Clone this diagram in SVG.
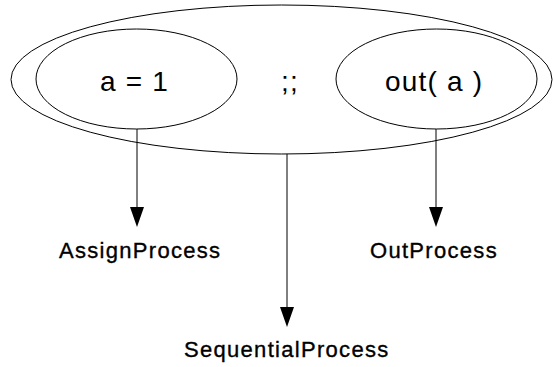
<svg xmlns="http://www.w3.org/2000/svg" width="553" height="367" viewBox="0 0 553 367">
<style>
.shape{fill:none;stroke:#000;stroke-width:1}
.big{font-family:"Liberation Sans",Arial,sans-serif;font-size:28px;fill:#000;letter-spacing:1.2px}
.lbl{font-family:"Liberation Sans",Arial,sans-serif;font-size:22px;fill:#000;stroke:#000;stroke-width:0.35px;letter-spacing:1.3px}
.edge{stroke:#000;stroke-width:1;fill:none}
.head{fill:#000}
</style>
<rect width="553" height="367" fill="#fff"/>
<g id="seq">
<ellipse class="shape" cx="281.5" cy="79.5" rx="270.5" ry="74.5"/>
<text class="big" x="290" y="91" text-anchor="middle">;;</text>
</g>
<g id="assign">
<ellipse class="shape" cx="136.5" cy="79" rx="100.5" ry="50"/>
<text class="big" x="100" y="91">a = 1</text>
</g>
<g id="out">
<ellipse class="shape" cx="436.5" cy="79" rx="100.5" ry="50"/>
<text class="big" x="385" y="91">out( a )</text>
</g>
<g id="connectors">
<line class="edge" x1="137" y1="129" x2="137" y2="207"/>
<path class="head" d="M130,207 L144,207 L137,227 Z"/>
<line class="edge" x1="436" y1="129" x2="436" y2="207"/>
<path class="head" d="M429,207 L443,207 L436,227 Z"/>
<line class="edge" x1="287" y1="154" x2="287" y2="307"/>
<path class="head" d="M280,307 L294,307 L287,327 Z"/>
</g>
<g id="labels">
<text class="lbl" x="59" y="258">AssignProcess</text>
<text class="lbl" x="370" y="258">OutProcess</text>
<text class="lbl" x="184" y="357">SequentialProcess</text>
</g>
</svg>
